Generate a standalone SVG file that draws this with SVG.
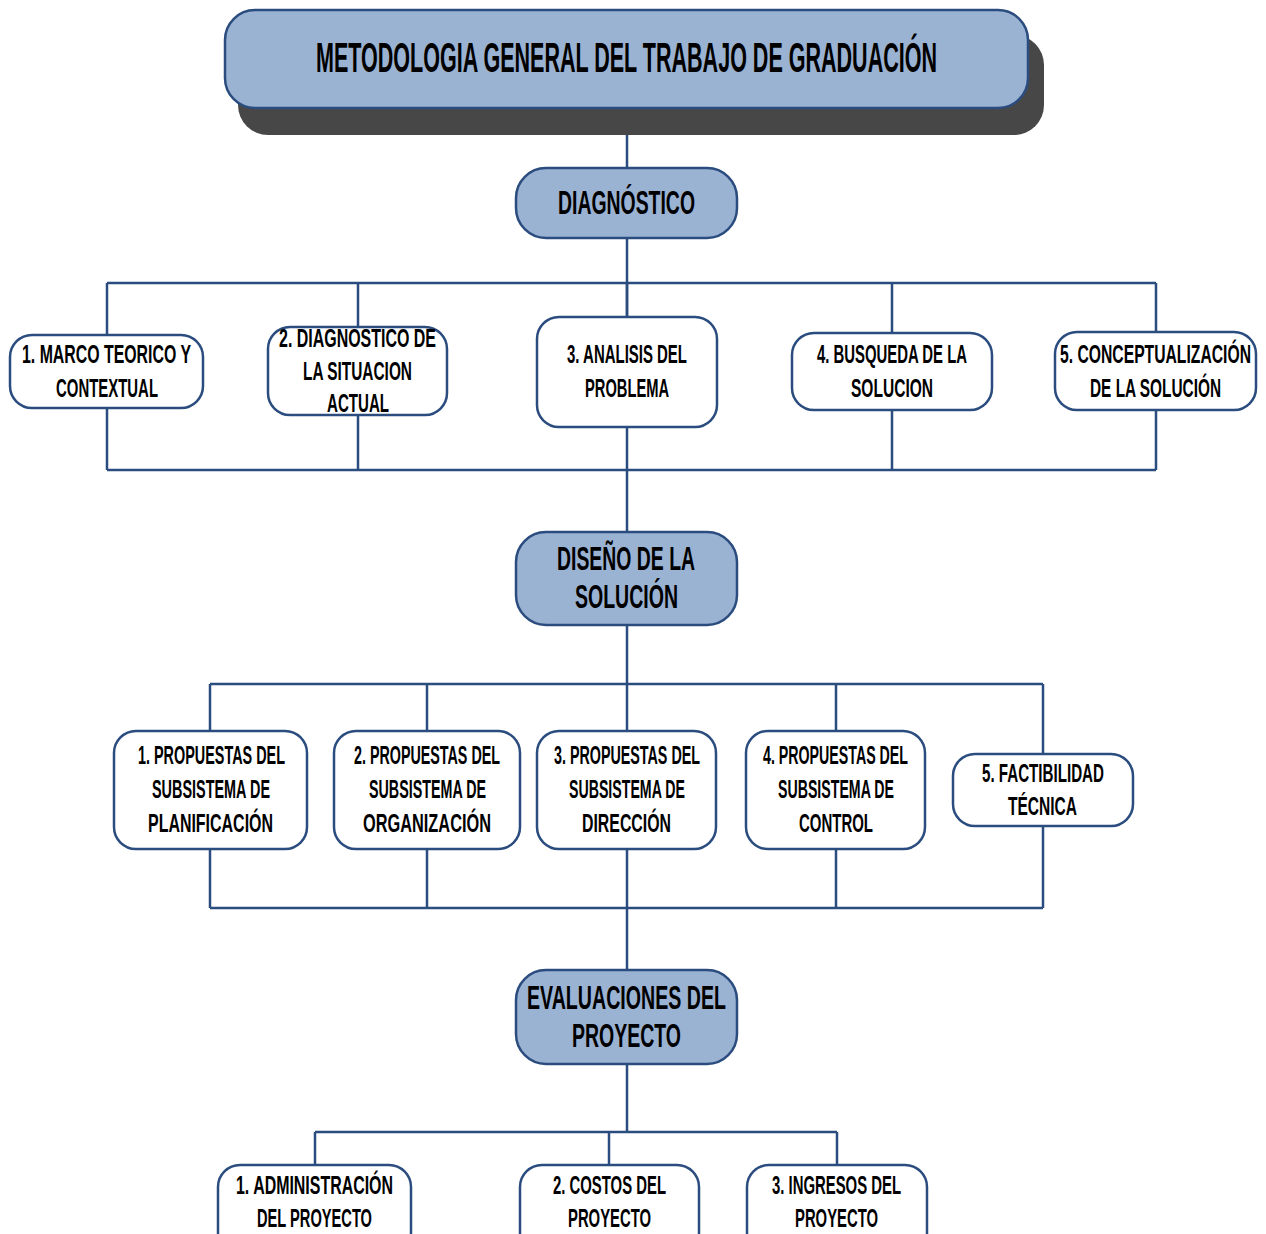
<svg xmlns="http://www.w3.org/2000/svg" width="1266" height="1234" viewBox="0 0 1266 1234">
  <style>
    .box { fill: #ffffff; stroke: #2b4c7e; stroke-width: 2.5; }
    .main { fill: #9bb3d3; stroke: #2b4c7e; stroke-width: 2.5; }
    .shadow { fill: #474747; }
    .wire { fill: none; stroke: #2b4c7e; stroke-width: 2.5; }
    text { font-family: "Liberation Sans", Arial, sans-serif; font-weight: bold; fill: #000000; }
    .t { font-size: 25px; }
    .h { font-size: 33px; }
    .title { font-size: 42px; }
  </style>
  <rect width="1266" height="1234" fill="#ffffff"/>

  <!-- connectors -->
  <g id="connectors">
    <path class="wire" d="M627 108 V168 M627 238 V532"/>
    <path class="wire" d="M107 283 H1156 M107 470 H1156"/>
    <path class="wire" d="M107 283 V335 M107 408 V470 M358 283 V327 M358 415 V470 M627 283 V317 M892 283 V333 M892 410 V470 M1156 283 V332 M1156 410 V470"/>
    <path class="wire" d="M627 625 V970"/>
    <path class="wire" d="M210 684 H1043 M210 908 H1043"/>
    <path class="wire" d="M210 684 V731 M210 849 V908 M427 684 V731 M427 849 V908 M836 684 V731 M836 849 V908 M1043 684 V754 M1043 826 V908"/>
    <path class="wire" d="M627 1064 V1132 M315 1132 H837 M315 1132 V1165 M609 1132 V1165 M837 1132 V1165"/>
  </g>

  <!-- title -->
  <g id="title">
    <rect class="shadow" x="238" y="35" width="806" height="100" rx="30"/>
    <rect class="main" x="225" y="10" width="803" height="98" rx="30"/>
    <text class="title" x="316" y="72" textLength="621" lengthAdjust="spacingAndGlyphs">METODOLOGIA GENERAL DEL TRABAJO DE GRADUACIÓN</text>
  </g>

  <!-- phase headers -->
  <g id="diagnostico">
    <rect class="main" x="516" y="168" width="221" height="70" rx="30"/>
    <text class="h" x="558" y="214" textLength="137" lengthAdjust="spacingAndGlyphs">DIAGNÓSTICO</text>
  </g>
  <g id="diseno">
    <rect class="main" x="516" y="532" width="221" height="93" rx="30"/>
    <text class="h" x="557" y="570" textLength="138" lengthAdjust="spacingAndGlyphs">DISEÑO DE LA</text>
    <text class="h" x="575" y="608" textLength="103" lengthAdjust="spacingAndGlyphs">SOLUCIÓN</text>
  </g>
  <g id="evaluaciones">
    <rect class="main" x="516" y="970" width="221" height="94" rx="30"/>
    <text class="h" x="527" y="1009" textLength="199" lengthAdjust="spacingAndGlyphs">EVALUACIONES DEL</text>
    <text class="h" x="572" y="1047" textLength="109" lengthAdjust="spacingAndGlyphs">PROYECTO</text>
  </g>

  <!-- diagnostic stages -->
  <g id="d1">
    <rect class="box" x="10" y="335" width="193" height="73" rx="22"/>
    <text class="t" x="22" y="363" textLength="169" lengthAdjust="spacingAndGlyphs">1. MARCO TEORICO Y</text>
    <text class="t" x="56" y="397" textLength="102" lengthAdjust="spacingAndGlyphs">CONTEXTUAL</text>
  </g>
  <g id="d2">
    <rect class="box" x="268" y="327" width="179" height="88" rx="22"/>
    <text class="t" x="279" y="347" textLength="157" lengthAdjust="spacingAndGlyphs">2. DIAGNOSTICO DE</text>
    <text class="t" x="303" y="380" textLength="109" lengthAdjust="spacingAndGlyphs">LA SITUACION</text>
    <text class="t" x="327" y="412" textLength="62" lengthAdjust="spacingAndGlyphs">ACTUAL</text>
  </g>
  <g id="d3">
    <rect class="box" x="537" y="317" width="180" height="110" rx="22"/>
    <text class="t" x="567" y="363" textLength="120" lengthAdjust="spacingAndGlyphs">3. ANALISIS DEL</text>
    <text class="t" x="585" y="397" textLength="84" lengthAdjust="spacingAndGlyphs">PROBLEMA</text>
  </g>
  <g id="d4">
    <rect class="box" x="792" y="333" width="200" height="77" rx="22"/>
    <text class="t" x="817" y="363" textLength="150" lengthAdjust="spacingAndGlyphs">4. BUSQUEDA DE LA</text>
    <text class="t" x="851" y="397" textLength="82" lengthAdjust="spacingAndGlyphs">SOLUCION</text>
  </g>
  <g id="d5">
    <rect class="box" x="1055" y="332" width="201" height="78" rx="22"/>
    <text class="t" x="1060" y="363" textLength="191" lengthAdjust="spacingAndGlyphs">5. CONCEPTUALIZACIÓN</text>
    <text class="t" x="1090" y="397" textLength="131" lengthAdjust="spacingAndGlyphs">DE LA SOLUCIÓN</text>
  </g>

  <!-- design stages -->
  <g id="s1">
    <rect class="box" x="114" y="731" width="193" height="118" rx="22"/>
    <text class="t" x="138" y="764" textLength="147" lengthAdjust="spacingAndGlyphs">1. PROPUESTAS DEL</text>
    <text class="t" x="152" y="798" textLength="118" lengthAdjust="spacingAndGlyphs">SUBSISTEMA DE</text>
    <text class="t" x="148" y="832" textLength="125" lengthAdjust="spacingAndGlyphs">PLANIFICACIÓN</text>
  </g>
  <g id="s2">
    <rect class="box" x="334" y="731" width="186" height="118" rx="22"/>
    <text class="t" x="354" y="764" textLength="146" lengthAdjust="spacingAndGlyphs">2. PROPUESTAS DEL</text>
    <text class="t" x="369" y="798" textLength="117" lengthAdjust="spacingAndGlyphs">SUBSISTEMA DE</text>
    <text class="t" x="363" y="832" textLength="128" lengthAdjust="spacingAndGlyphs">ORGANIZACIÓN</text>
  </g>
  <g id="s3">
    <rect class="box" x="537" y="731" width="179" height="118" rx="22"/>
    <text class="t" x="554" y="764" textLength="146" lengthAdjust="spacingAndGlyphs">3. PROPUESTAS DEL</text>
    <text class="t" x="569" y="798" textLength="116" lengthAdjust="spacingAndGlyphs">SUBSISTEMA DE</text>
    <text class="t" x="582" y="832" textLength="89" lengthAdjust="spacingAndGlyphs">DIRECCIÓN</text>
  </g>
  <g id="s4">
    <rect class="box" x="746" y="731" width="179" height="118" rx="22"/>
    <text class="t" x="763" y="764" textLength="145" lengthAdjust="spacingAndGlyphs">4. PROPUESTAS DEL</text>
    <text class="t" x="778" y="798" textLength="116" lengthAdjust="spacingAndGlyphs">SUBSISTEMA DE</text>
    <text class="t" x="799" y="832" textLength="74" lengthAdjust="spacingAndGlyphs">CONTROL</text>
  </g>
  <g id="s5">
    <rect class="box" x="953" y="754" width="180" height="72" rx="22"/>
    <text class="t" x="982" y="782" textLength="122" lengthAdjust="spacingAndGlyphs">5. FACTIBILIDAD</text>
    <text class="t" x="1008" y="815" textLength="69" lengthAdjust="spacingAndGlyphs">TÉCNICA</text>
  </g>

  <!-- evaluation stages -->
  <g id="e1">
    <rect class="box" x="218" y="1165" width="193" height="90" rx="22"/>
    <text class="t" x="236" y="1194" textLength="157" lengthAdjust="spacingAndGlyphs">1. ADMINISTRACIÓN</text>
    <text class="t" x="257" y="1227" textLength="115" lengthAdjust="spacingAndGlyphs">DEL PROYECTO</text>
  </g>
  <g id="e2">
    <rect class="box" x="520" y="1165" width="179" height="90" rx="22"/>
    <text class="t" x="553" y="1194" textLength="113" lengthAdjust="spacingAndGlyphs">2. COSTOS DEL</text>
    <text class="t" x="568" y="1227" textLength="83" lengthAdjust="spacingAndGlyphs">PROYECTO</text>
  </g>
  <g id="e3">
    <rect class="box" x="747" y="1165" width="180" height="90" rx="22"/>
    <text class="t" x="772" y="1194" textLength="129" lengthAdjust="spacingAndGlyphs">3. INGRESOS DEL</text>
    <text class="t" x="795" y="1227" textLength="83" lengthAdjust="spacingAndGlyphs">PROYECTO</text>
  </g>
</svg>
